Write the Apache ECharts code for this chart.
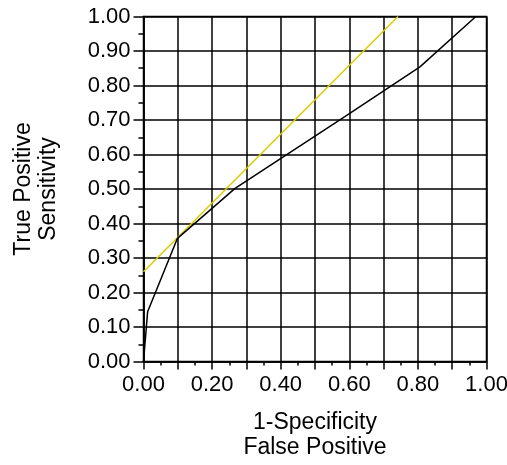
<!DOCTYPE html>
<html>
<head>
<meta charset="utf-8">
<script src="https://cdn.jsdelivr.net/npm/echarts@6/dist/echarts.min.js"></script>
<style>
  html, body { margin: 0; padding: 0; background: #fff; }
  #main { width: 507px; height: 465px; }
</style>
</head>
<body>
<div id="main"></div>
<script>
// ROC curve points (1-specificity, sensitivity)
var rocX = [0, 0.012, 0.099, 0.267, 0.587, 0.806, 0.969];
var rocY = [0, 0.144, 0.357, 0.502, 0.71, 0.854, 1.0];
// tangent line
var tanX = [0, 0.742];
var tanY = [0.26, 1.0];

var xLabels = ['0.00', '0.20', '0.40', '0.60', '0.80', '1.00'];

var chartDom = document.getElementById('main');
var myChart = echarts.init(chartDom);
var font = 'Liberation Sans, Arial, sans-serif';

function pairs(xs, ys) {
  return xs.map(function (x, i) { return [x, ys[i]]; });
}

var option = {
  animation: false,
  grid: {
    left: 143.5, right: 20.5, top: 16.5, bottom: 103.5,
    outerBoundsMode: 'none', containLabel: false,
    show: true, borderColor: '#000', borderWidth: 1.5
  },
  xAxis: {
    type: 'value', min: 0, max: 1, interval: 0.1,
    name: '1-Specificity\nFalse Positive',
    nameLocation: 'middle', nameGap: 49,
    nameTextStyle: { fontFamily: font, fontSize: 23, color: '#000', lineHeight: 24.5 },
    axisLine: { lineStyle: { color: '#000', width: 1.5 } },
    axisTick: { length: 8, lineStyle: { color: '#000', width: 1.5 } },
    minorTick: { show: true, splitNumber: 2, length: 4, lineStyle: { color: '#000', width: 1.5 } },
    splitLine: { lineStyle: { color: '#000', width: 1.5 } },
    axisLabel: {
      fontFamily: font, fontSize: 22, color: '#000', margin: 12,
      formatter: function (v) {
        var k = Math.round(v * 10);
        return k % 2 === 0 ? xLabels[k / 2] : '';
      }
    }
  },
  yAxis: {
    type: 'value', min: 0, max: 1, interval: 0.1,
    name: 'True Positive\nSensitivity',
    nameLocation: 'middle', nameGap: 82,
    nameTextStyle: { fontFamily: font, fontSize: 23, color: '#000', lineHeight: 25 },
    axisLine: { show: true, lineStyle: { color: '#000', width: 1.5 } },
    axisTick: { show: true, length: 10, lineStyle: { color: '#000', width: 1.5 } },
    minorTick: { show: true, splitNumber: 2, length: 5, lineStyle: { color: '#000', width: 1.5 } },
    splitLine: { lineStyle: { color: '#000', width: 1.5 } },
    axisLabel: {
      fontFamily: font, fontSize: 22, color: '#000', margin: 13,
      formatter: function (v) { return v.toFixed(2); }
    }
  },
  series: [
    {
      name: 'tangent', type: 'line', data: pairs(tanX, tanY),
      showSymbol: false, lineStyle: { color: '#dccb00', width: 1.5 }
    },
    {
      name: 'roc', type: 'line', data: pairs(rocX, rocY),
      showSymbol: false, lineStyle: { color: '#000', width: 1.5 }
    }
  ]
};

option && myChart.setOption(option);
</script>
</body>
</html>
